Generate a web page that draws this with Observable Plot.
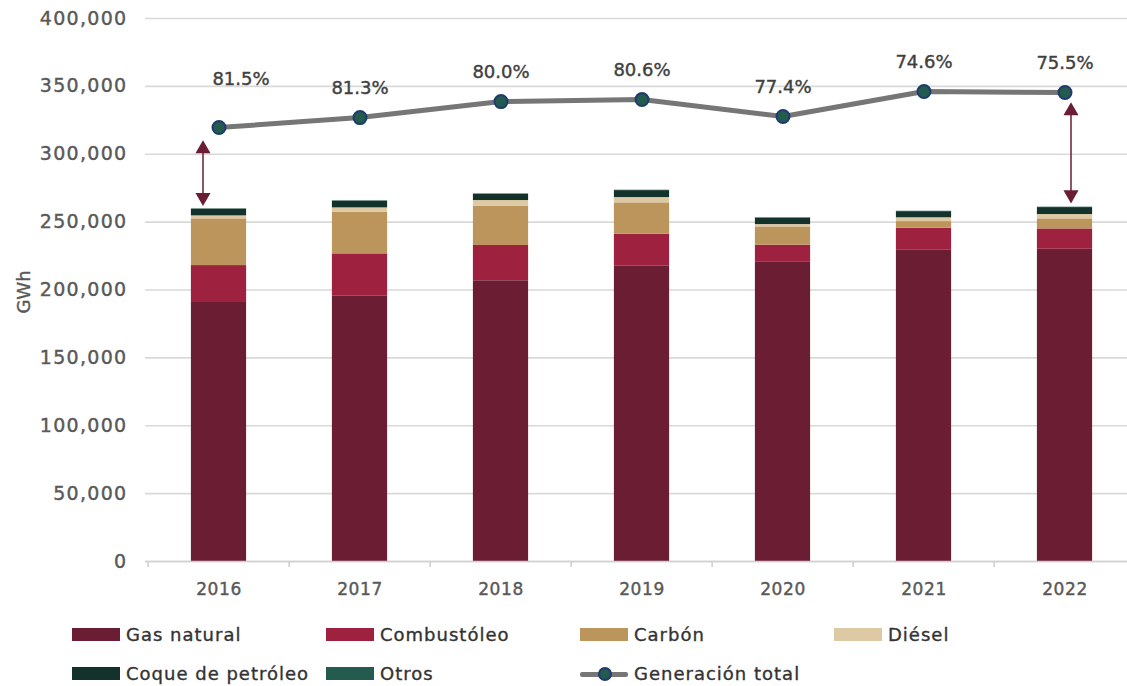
<!DOCTYPE html>
<html>
<head>
<meta charset="utf-8">
<script src="https://cdn.jsdelivr.net/npm/d3@7"></script>
<script src="https://cdn.jsdelivr.net/npm/@observablehq/plot@0.6"></script>
<style>
  html, body { margin: 0; padding: 0; background: #fff; }
  body { width: 1127px; height: 686px; overflow: hidden; font-family: "DejaVu Sans", sans-serif; }
  #chart { position: absolute; left: 0; top: 0; }
  #chart g[aria-label="y-axis tick label"] text { letter-spacing: 1.3px; stroke: #595959; stroke-width: 0.4px; }
  #chart g[aria-label="x-axis tick label"] text { letter-spacing: 0.6px; stroke: #595959; stroke-width: 0.4px; }
  #chart g[aria-label="text"] text { stroke-width: 0.4px; }
  #legend { position: absolute; left: 0; top: 610px; width: 1127px; height: 76px; }
  .item { position: absolute; display: flex; align-items: center; font-size: 18px; color: #333; letter-spacing: 1px; white-space: nowrap; -webkit-text-stroke: 0.35px #333; }
  .sw { width: 48px; height: 13px; margin-right: 6px; }
  .ln { width: 48px; height: 14px; margin-right: 6px; position: relative; }
  .ln .bar { position: absolute; left: 0; right: 0; top: 5px; height: 5px; background: #767676; border-radius: 2px; }
  .ln .dot { position: absolute; left: 18px; top: 0px; width: 10px; height: 10px; border-radius: 50%; background: #235b4e; border: 2px solid #1e3a6e; }
</style>
</head>
<body>
<div id="chart"></div>
<div id="legend"></div>
<script>
// ---- data ----
const years = ["2016", "2017", "2018", "2019", "2020", "2021", "2022"];
const fuels = ["Gas natural", "Combustóleo", "Carbón", "Diésel", "Coque de petróleo", "Otros"];
const colors = ["#6b1d33", "#9e2240", "#bc955c", "#ddc9a3", "#13322b", "#235b4e"];
const gasNatural  = [190800, 195700, 206800, 217500, 220800, 229600, 230000];
const combustoleo = [27200, 30900, 26000, 23600, 12200, 15900, 15000];
const carbon      = [34400, 30700, 28900, 23100, 13500, 4900, 7400];
const diesel      = [2200, 3200, 4200, 3900, 1700, 2800, 3200];
const coque       = [4900, 4900, 4600, 5100, 4700, 4500, 5100];
const otros       = [300, 300, 300, 300, 300, 300, 300];
const generacionTotal = [319700, 327000, 338800, 340300, 327800, 346200, 345500];
const shareLabels = ["81.5%", "81.3%", "80.0%", "80.6%", "77.4%", "74.6%", "75.5%"];
const yTicks = [0, 50000, 100000, 150000, 200000, 250000, 300000, 350000, 400000];

// ---- tables ----
const series = [gasNatural, combustoleo, carbon, diesel, coque, otros];
const stacked = [];
years.forEach((yr, i) => {
  fuels.forEach((f, k) => stacked.push({year: yr, fuel: f, value: series[k][i]}));
});
const totals = years.map((yr, i) => ({
  year: yr,
  total: generacionTotal[i],
  bars: series.reduce((s, arr) => s + arr[i], 0),
  share: shareLabels[i]
}));

const fontFam = "DejaVu Sans, sans-serif";
const arrowColor = "#6b1d33";

function arrowMarks(yr, dx, gapTop, gapBottom) {
  const d = totals.filter(t => t.year === yr);
  return [
    Plot.ruleX(d, {x: "year", y1: "total", y2: "bars", dx, insetTop: gapTop + 4, insetBottom: gapBottom + 4, stroke: arrowColor, strokeWidth: 1.5}),
    Plot.dot(d, {x: "year", y: "total", dx, dy: gapTop + 8.5, symbol: "triangle", r: 5.6, fill: arrowColor, stroke: "none"}),
    Plot.dot(d, {x: "year", y: "bars", dx, dy: -gapBottom - 8.5, symbol: "triangle", rotate: 180, r: 5.6, fill: arrowColor, stroke: "none"})
  ];
}

const labelMark = (rows, extra) => Plot.text(rows, {x: "year", y: "total", text: "share", fontSize: 18, fill: "#404040", stroke: "#404040", strokeWidth: 0.4, ...extra});

const chart = Plot.plot({
  width: 1127,
  height: 610,
  marginTop: 18,
  marginBottom: 49,
  marginLeft: 145,
  marginRight: 0,
  style: {fontFamily: fontFam, background: "#fff", overflow: "visible"},
  x: {domain: years, range: [145, 1137], padding: 0},
  y: {domain: [0, 400000]},
  color: {domain: fuels, range: colors},
  marks: [
    Plot.gridY(yTicks, {stroke: "#d9d9d9", strokeOpacity: 1, strokeWidth: 1.6}),
    Plot.axisY(yTicks, {tickSize: 0, tickPadding: 18, tickFormat: d3.format(","), fontSize: 19, fill: "#595959", label: null}),
    Plot.text(["GWh"], {frameAnchor: "left", dx: -121, dy: 2, rotate: -90, textAnchor: "middle", fontSize: 18, fill: "#595959", stroke: "#595959", strokeWidth: 0.4}),
    Plot.axisX({tickSize: 0, tickPadding: 21, fontSize: 17, fill: "#595959", label: null}),
    Plot.barY(stacked, {x: "year", y: "value", fill: "fuel", insetLeft: 42.9, insetRight: 42.9}),
    Plot.ruleY([0], {stroke: "#d0d0d0", strokeWidth: 1.6}),
    Plot.ruleX(years, {x: d => d, dx: -70.86, y1: 0, y2: 0, insetBottom: -6, stroke: "#d0d0d0", strokeWidth: 1.6}),
    ...arrowMarks("2016", -16, 13, 3),
    ...arrowMarks("2022", 6, 10, 4),
    Plot.line(totals, {x: "year", y: "total", stroke: "#767676", strokeWidth: 5}),
    Plot.dot(totals, {x: "year", y: "total", r: 6.5, fill: "#235b4e", stroke: "#1e3a6e", strokeWidth: 2}),
    labelMark(totals.filter(t => t.year !== "2016"), {dy: -29}),
    labelMark(totals.filter(t => t.year === "2016"), {dx: 22, dy: -48})
  ]
});
document.getElementById("chart").appendChild(chart);

// ---- legend ----
const legendItems = fuels.map((f, i) => ({label: f, color: colors[i], type: "sw"}));
legendItems.push({label: "Generación total", type: "line"});
const cols = [72, 326, 580, 834];
const slots = [[0,0],[1,0],[2,0],[3,0],[0,1],[1,1],[2,1]];
const legend = document.getElementById("legend");
legendItems.forEach((it, i) => {
  const el = document.createElement("div");
  el.className = "item";
  el.style.left = cols[slots[i][0]] + "px";
  el.style.top = (slots[i][1] === 0 ? 14 : 53) + "px";
  if (it.type === "sw") {
    const s = document.createElement("span");
    s.className = "sw"; s.style.background = it.color;
    el.appendChild(s);
  } else {
    const s = document.createElement("span");
    s.className = "ln";
    s.innerHTML = '<span class="bar"></span><span class="dot"></span>';
    el.appendChild(s);
  }
  const t = document.createElement("span");
  t.textContent = it.label;
  el.appendChild(t);
  legend.appendChild(el);
});
</script>
</body>
</html>
